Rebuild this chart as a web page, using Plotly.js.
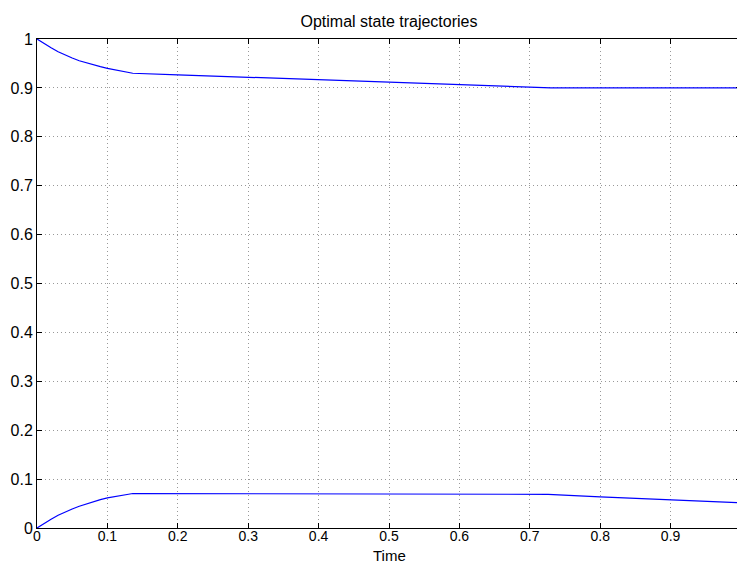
<!DOCTYPE html>
<html>
<head>
<meta charset="utf-8">
<script src="https://cdn.plot.ly/plotly-3.0.1.min.js"></script>
<style>
html, body { margin: 0; padding: 0; overflow: hidden; background: #fff; }
#chart { width: 741px; height: 563px; }
</style>
</head>
<body>
<div id="chart"></div>
<script>
// Data
const timeUpper = [0, 0.01, 0.02, 0.03, 0.04, 0.05, 0.06, 0.07, 0.08, 0.09, 0.10, 0.11, 0.12, 0.13, 0.136, 0.2, 0.3, 0.4, 0.5, 0.6, 0.7, 0.73, 0.8, 0.9, 1.0];
const stateUpper = [1.0, 0.9905, 0.982, 0.974, 0.967, 0.961, 0.9555, 0.951, 0.947, 0.9435, 0.940, 0.937, 0.9345, 0.932, 0.930, 0.9268, 0.9217, 0.9167, 0.9116, 0.9066, 0.9015, 0.900, 0.900, 0.900, 0.900];

const timeLower = [0, 0.01, 0.02, 0.03, 0.04, 0.05, 0.06, 0.07, 0.08, 0.09, 0.10, 0.11, 0.12, 0.13, 0.136, 0.2, 0.3, 0.4, 0.5, 0.6, 0.7, 0.726, 0.8, 0.9, 1.0];
const stateLower = [0, 0.0095, 0.018, 0.026, 0.033, 0.039, 0.0445, 0.0495, 0.054, 0.058, 0.0615, 0.0645, 0.067, 0.069, 0.0705, 0.0703, 0.0700, 0.0698, 0.0695, 0.0692, 0.0690, 0.0689, 0.0638, 0.0577, 0.0515];

const xTickVals = [0, 0.1, 0.2, 0.3, 0.4, 0.5, 0.6, 0.7, 0.8, 0.9];
const xTickText = ["0", "0.1", "0.2", "0.3", "0.4", "0.5", "0.6", "0.7", "0.8", "0.9"];
const yTickVals = [0, 0.1, 0.2, 0.3, 0.4, 0.5, 0.6, 0.7, 0.8, 0.9, 1];
const yTickText = ["0", "0.1", "0.2", "0.3", "0.4", "0.5", "0.6", "0.7", "0.8", "0.9", "1"];

const titleText = "Optimal state trajectories";
const xTitleText = "Time";

const FONT = "Liberation Sans, Arial, Helvetica, sans-serif";

const lineStyle = { color: "#0000ff", width: 1.2 };

const traces = [
  { x: timeUpper, y: stateUpper, type: "scatter", mode: "lines", line: lineStyle, hoverinfo: "skip" },
  { x: timeLower, y: stateLower, type: "scatter", mode: "lines", line: lineStyle, hoverinfo: "skip" }
];

const axisCommon = {
  showline: true,
  linecolor: "#000",
  linewidth: 1,
  mirror: "ticks",
  ticks: "inside",
  ticklen: 5,
  tickwidth: 1,
  tickcolor: "#000",
  showgrid: true,
  gridcolor: "#999",
  gridwidth: 1,
  griddash: "1px,3px",
  zeroline: false,
  tickfont: { family: FONT, size: 16, color: "#000" },
  fixedrange: true
};

const layout = {
  width: 741,
  height: 563,
  autosize: false,
  showlegend: false,
  paper_bgcolor: "#fff",
  plot_bgcolor: "#fff",
  margin: { l: 37, r: 0, t: 39, b: 35, pad: 0 },
  font: { family: FONT, size: 16, color: "#000" },
  title: {
    text: titleText,
    font: { family: FONT, size: 16, color: "#000" },
    x: 389 / 741, xref: "container", xanchor: "center",
    y: 1 - 21 / 563, yref: "container", yanchor: "middle"
  },
  xaxis: Object.assign({}, axisCommon, {
    range: [0, 1],
    tickmode: "array",
    tickvals: xTickVals,
    ticktext: xTickText,
    tickfont: { family: FONT, size: 14, color: "#000" },
    ticklabelstandoff: -5
  }),
  yaxis: Object.assign({}, axisCommon, {
    range: [0, 1],
    tickmode: "array",
    tickvals: yTickVals,
    ticktext: yTickText
  }),
  annotations: [{
    text: xTitleText,
    xref: "x", x: 0.5, xanchor: "center",
    yref: "paper", y: 0, yanchor: "top", yshift: -17.5,
    borderpad: 0,
    showarrow: false,
    font: { family: FONT, size: 15, color: "#000" }
  }]
};

Plotly.newPlot("chart", traces, layout, { displayModeBar: false, staticPlot: true });
</script>
</body>
</html>
